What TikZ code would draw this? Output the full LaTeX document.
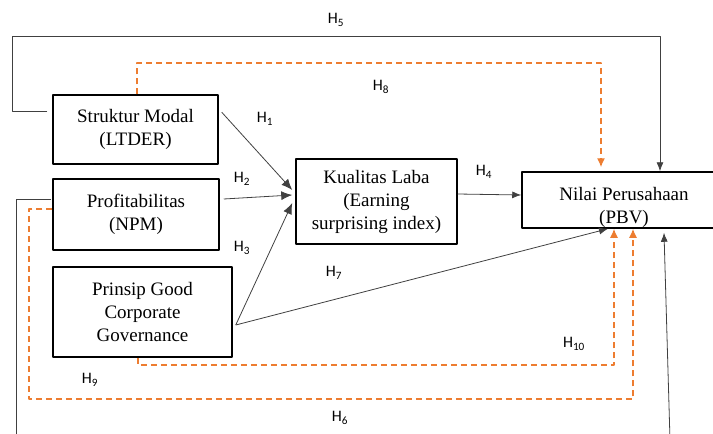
\documentclass[tikz,border=0pt]{standalone}
\usepackage{fontspec}
\setmainfont{Liberation Serif}
\newfontfamily\hfont{Carlito}
\usetikzlibrary{arrows.meta,positioning}
\definecolor{accent}{RGB}{237,125,49}

\begin{document}
\begin{tikzpicture}[
        x = 1pt, y = -1pt,
        line join=round,
        box/.style = {draw, line width=1.5pt, align=center, inner sep=0pt, font=\rmfamily\fontsize{19}{23}\selectfont},
        link/.style = {draw=black!75, line width=0.8pt, -{Latex[length=9pt,width=7pt]}},
        bold link/.style = {link, -{Latex[length=11pt,width=9pt]}},
        mediate/.style = {draw=accent, line width=1.4pt, dash pattern=on 6pt off 4pt, -{Latex[length=9pt,width=8pt]}},
        hlabel/.style = {font=\hfont\fontsize{16}{16}\selectfont}
    ]

    \useasboundingbox (0,0) rectangle (713,434);
    \clip (0,0) rectangle (713,434);

    \node[box, minimum width=165, minimum height=69] (sm) at (135.5,129.5) {Struktur Modal\\(LTDER)};
    \node[box, minimum width=166, minimum height=71] (pr) at (136,214.5) {Profitabilitas\\(NPM)};
    \node[box, minimum width=179, minimum height=90] (gcg) at (142.5,312) {Prinsip Good\\Corporate\\Governance};
    \node[box, minimum width=161, minimum height=85] (kl) at (376.5,201.5) {Kualitas Laba\\(Earning\\surprising index)};
    \node[box, minimum width=204, minimum height=56] (nv) at (624,200) {\rule{0pt}{28pt}Nilai Perusahaan\\(PBV)};

        \coordinate (c5a) at (12,36);
        \coordinate (c5b) at (660,36);
        \coordinate (c8) at (601,63);
        \coordinate (c9a) at (29,399);
        \coordinate (c9b) at (633,399);
        \coordinate (c10) at (614,365);
        \coordinate (c6a) at (16,440);
        \coordinate (c6b) at (670,440);

    \draw[bold link] ([xshift=3pt,yshift=-18pt]sm.north east) -- ([xshift=-3pt,yshift=11.5pt]kl.west);
    \draw[bold link] ([xshift=4pt,yshift=15.5pt]pr.east) -- ([xshift=-3pt,yshift=6.5pt]kl.west);
    \draw[bold link] ([xshift=3pt,yshift=-13pt]gcg.east) -- ([xshift=-3pt,yshift=-1.5pt]kl.west);
    \draw[link] ([yshift=7.5pt]kl.east) -- ([yshift=5pt]nv.west);
    \draw[link] ([xshift=3pt,yshift=-13pt]gcg.east) -- ([xshift=-16pt]nv.south);

    \draw[link] ([xshift=-5pt,yshift=18.5pt]sm.west) -| (c5a) -- (c5b) -- (c5b |- nv.north);
    \draw[draw=black!75, line width=0.8pt] ([xshift=-1pt,yshift=15.5pt]pr.west) -| (c6a);
    \draw[link] (c6b) -- ([xshift=40pt,yshift=-4pt]nv.south);

    \draw[mediate] ([xshift=1.5pt]sm.north) |- (c8) -- ([yshift=4pt]c8 |- nv.north);
    \draw[mediate] ([yshift=5.5pt]pr.west) -| (c9a) -- (c9b) -- (c9b |- nv.south);
    \draw[mediate] ([xshift=-4.5pt]gcg.south) |- (c10) -- (c10 |- nv.south);

    \node[hlabel] (h1) at (265,119) {H\textsubscript{1}};
    \node[hlabel] (h2) at (242,179) {H\textsubscript{2}};
    \node[hlabel] (h3) at (242,248) {H\textsubscript{3}};
    \node[hlabel] (h4) at (484,172) {H\textsubscript{4}};
    \node[hlabel] (h5) at (336,20) {H\textsubscript{5}};
    \node[hlabel] (h6) at (340,418) {H\textsubscript{6}};
    \node[hlabel] (h7) at (334,273) {H\textsubscript{7}};
    \node[hlabel] (h8) at (381,87) {H\textsubscript{8}};
    \node[hlabel] (h9) at (90,380) {H\textsubscript{9}};
    \node[hlabel] (h10) at (574,344) {H\textsubscript{10}};

\end{tikzpicture}
\end{document}
